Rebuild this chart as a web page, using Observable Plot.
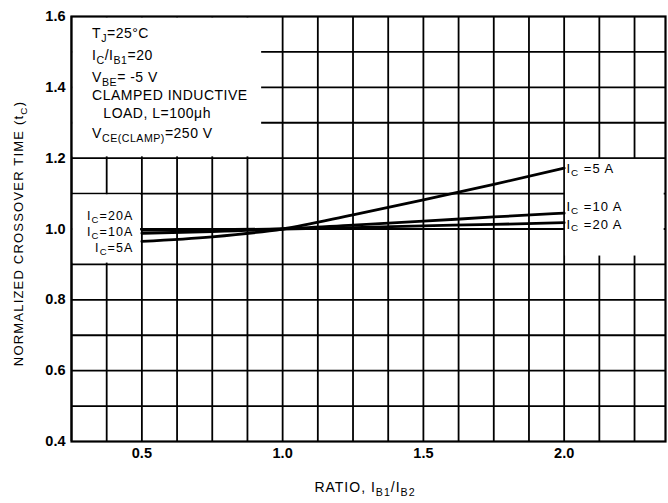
<!DOCTYPE html>
<html><head><meta charset="utf-8">
<script src="https://cdn.jsdelivr.net/npm/d3@7"></script>
<script src="https://cdn.jsdelivr.net/npm/@observablehq/plot@0.6"></script>
<style>body{margin:0;background:#fff}</style>
</head><body><div id="chart"></div>
<script>
// ---- data ----
const ratio = [0.5, 0.75, 1.0, 1.25, 1.5, 1.75, 2.0];
const tc5A  = [0.965, 0.978, 1.0, 1.040, 1.082, 1.126, 1.172];
const tc10A = [0.988, 0.993, 1.0, 1.011, 1.022, 1.034, 1.045];
const tc20A = [0.997, 0.998, 1.0, 1.004, 1.009, 1.013, 1.018];
const seriesNames = ["5A", "10A", "20A"];
const xTicks = [0.5, 1.0, 1.5, 2.0];
const xTickLabels = ["0.5", "1.0", "1.5", "2.0"];
const yTicks = [0.4, 0.6, 0.8, 1.0, 1.2, 1.4, 1.6];
const yTickLabels = ["0.4", "0.6", "0.8", "1.0", "1.2", "1.4", "1.6"];
const xGrid = [0.25, 0.375, 0.5, 0.625, 0.75, 0.875, 1.0, 1.125, 1.25, 1.375, 1.5, 1.625, 1.75, 1.875, 2.0, 2.125, 2.25];
const yGrid = [0.5, 0.6, 0.7, 0.8, 0.9, 1.0, 1.1, 1.2, 1.3, 1.4, 1.5];
const xDomain = [0.25, 2.36];
const yDomain = [0.4, 1.6];
// blank (label) areas of the grid
const blankX1 = [0.25, 0.25, 2.0];
const blankX2 = [0.93, 0.5, 2.36];
const blankY1 = [1.2, 0.9, 0.92];
const blankY2 = [1.6, 1.1, 1.2];

const rows = [];
[tc5A, tc10A, tc20A].forEach((s, k) => s.forEach((v, i) => rows.push({ic: seriesNames[k], r: ratio[i], t: v})));
const blanks = blankX1.map((d, i) => ({x1: d, x2: blankX2[i], y1: blankY1[i], y2: blankY2[i]}));

const FONT = "'Liberation Sans', Arial, sans-serif";

const plot = Plot.plot({
  width: 668, height: 503,
  marginLeft: 71, marginRight: 3, marginTop: 16, marginBottom: 62,
  style: {fontFamily: FONT, background: "#fff", color: "#000"},
  x: {domain: xDomain},
  y: {domain: yDomain},
  marks: [
    Plot.ruleX(xGrid, {stroke: "#000", strokeWidth: 1.8}),
    Plot.ruleY(yGrid, {stroke: "#000", strokeWidth: 1.8}),
    Plot.rect(blanks, {x1: "x1", x2: "x2", y1: "y1", y2: "y2", fill: "#fff", inset: 1.3}),
    Plot.frame({stroke: "#000", strokeWidth: 2.2}),
    Plot.line(rows, {x: "r", y: "t", z: "ic", stroke: "#000", strokeWidth: 2.8, curve: "monotone-x"}),
    Plot.axisX(xTicks, {tickSize: 0, tickPadding: 6, fontSize: 14.5, fontWeight: "bold", tickFormat: (d, i) => xTickLabels[i], label: null}),
    Plot.axisY(yTicks, {tickSize: 0, tickPadding: 6, fontSize: 14.5, fontWeight: "bold", tickFormat: (d, i) => yTickLabels[i], label: null})
  ]
});
document.getElementById("chart").appendChild(plot);

// ---- annotations with subscripts ----
const X = plot.scale("x"), Y = plot.scale("y");
const svg = d3.select(plot);

function rich(parent, x, y, parts, opt = {}) {
  const size = opt.size || 14;
  const t = parent.append("text")
    .attr("x", x).attr("y", y)
    .attr("text-anchor", opt.anchor || "start")
    .attr("font-family", FONT)
    .attr("font-size", size)
    .attr("font-weight", opt.weight || "normal")
    .attr("fill", "#000");
  if (opt.letter) t.attr("letter-spacing", opt.letter);
  let down = false;
  const sh = size * (opt.shift || 0.27);
  for (const p of parts) {
    const isSub = typeof p !== "string";
    const txt = isSub ? p.sub : p;
    const s = t.append("tspan").text(txt);
    if (isSub) {
      s.attr("font-size", size * 0.76);
      if (!down) { s.attr("dy", sh); down = true; }
    } else if (down) { s.attr("dy", -sh); down = false; }
  }
  return t;
}

const boxX = [0.325, 0.325, 0.325, 0.325, 0.365, 0.325];
const boxY = [1.538, 1.476, 1.414, 1.363, 1.312, 1.256];
const boxText = [
  ["T", {sub: "J"}, "=25°C"],
  ["I", {sub: "C"}, "/I", {sub: "B1"}, "=20"],
  ["V", {sub: "BE"}, "= -5 V"],
  ["CLAMPED INDUCTIVE"],
  ["LOAD, L=100μh"],
  ["V", {sub: "CE(CLAMP)"}, "=250 V"]
];
boxText.forEach((p, i) => rich(svg, X.apply(boxX[i]), Y.apply(boxY[i]), p, {size: 14, letter: 0.5}));

const rightLabelX = 2.01;
const rightLabelY = [1.157, 1.05, 1.0];
const leftLabelX = 0.472;
const leftLabelY = [1.023, 0.978, 0.933];
const rightNames = ["5 A", "10 A", "20 A"];
const leftNames = ["20A", "10A", "5A"];
rightNames.forEach((n, i) => rich(svg, X.apply(rightLabelX), Y.apply(rightLabelY[i]), ["I", {sub: "C"}, " =" + n], {size: 13, letter: 1, shift: 0.22}));
leftNames.forEach((n, i) => rich(svg, X.apply(leftLabelX), Y.apply(leftLabelY[i]), ["I", {sub: "C"}, "=" + n], {anchor: "end", size: 12.5, letter: 1.1, shift: 0.22}));

// axis titles
const xMid = (X.apply(xDomain[0]) + X.apply(xDomain[1])) / 2 - 3;
rich(svg, xMid, 492, ["RATIO, I", {sub: "B1"}, "/I", {sub: "B2"}], {anchor: "middle", size: 14, letter: 1});
const yMid = (Y.apply(yDomain[0]) + Y.apply(yDomain[1])) / 2 + 5;
const g = svg.append("g").attr("transform", `translate(23,${yMid}) rotate(-90)`);
rich(g, 0, 0, ["NORMALIZED CROSSOVER TIME (t", {sub: "C"}, ")"], {anchor: "middle", size: 13, letter: 1.2});
</script>
</body></html>
